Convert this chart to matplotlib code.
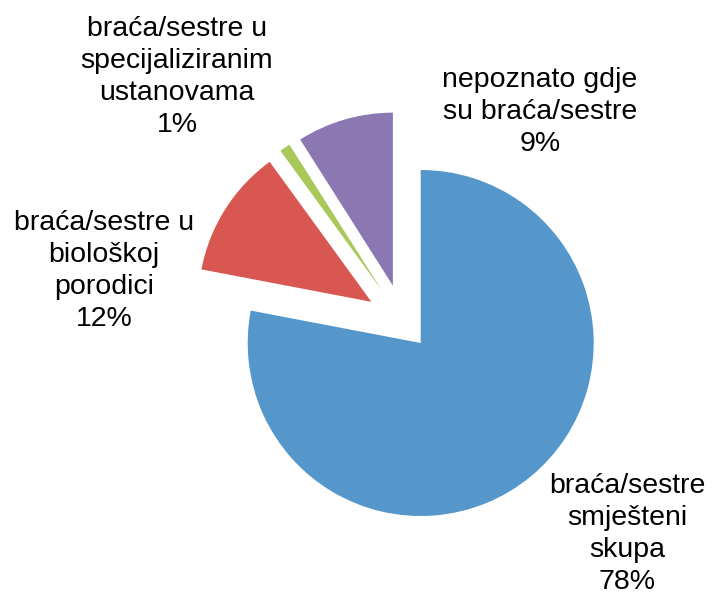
import matplotlib
matplotlib.use("Agg")
import matplotlib.pyplot as plt

categories = [
    "braća/sestre\nsmješteni\nskupa",
    "braća/sestre u\nbiološkoj\nporodici",
    "braća/sestre u\nspecijaliziranim\nustanovama",
    "nepoznato gdje\nsu braća/sestre",
]
values = [78, 12, 1, 9]
colors = ["#5597CA", "#D85750", "#A9C85A", "#8B77B2"]
explode = [0.156, 0.22, 0.22, 0.22]

# label centres in pixels (x, y from top)
label_px = [(627, 534), (104, 271), (177, 77), (540, 112)]

W, H = 712, 599
cx, cy, r = 403.5, 322.2, 173.0

fig = plt.figure(figsize=(W / 100, H / 100), dpi=100)
ax = fig.add_axes([0, 0, 1, 1])
ax.pie(values, explode=explode, colors=colors, startangle=90,
       counterclock=False, radius=1, wedgeprops=dict(linewidth=0))
ax.set_xlim(-cx / r, (W - cx) / r)
ax.set_ylim(-(H - cy) / r, cy / r)
ax.set_aspect("equal")
ax.axis("off")

for cat, v, (px, py) in zip(categories, values, label_px):
    ax.text((px - cx) / r, (cy - py) / r, "{}\n{}%".format(cat, v),
            ha="center", va="center", fontsize=20.5, family="Liberation Sans",
            linespacing=1.3, color="black")

fig.savefig("out.png", dpi=100, facecolor="white")
